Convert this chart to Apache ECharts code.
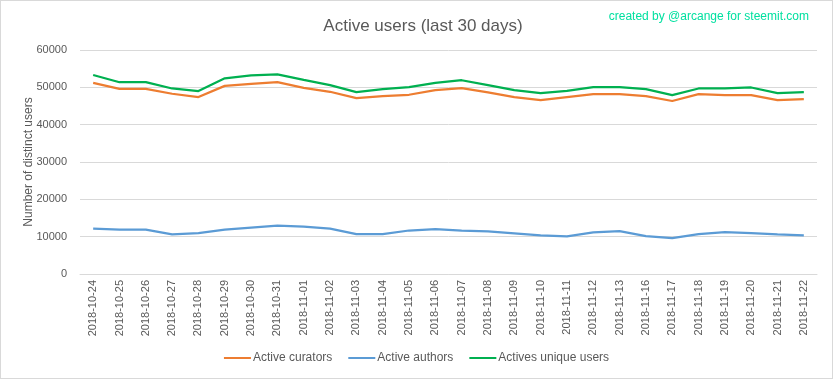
<!DOCTYPE html>
<html>
<head>
<meta charset="utf-8">
<script src="https://cdn.jsdelivr.net/npm/echarts@6/dist/echarts.min.js"></script>
<style>
html,body{margin:0;padding:0;background:#fff;}
#c{width:833px;height:379px;box-sizing:border-box;border:1px solid #d9d9d9;}
</style>
</head>
<body>
<div id="c"></div>
<script>
const categories = ["2018-10-24","2018-10-25","2018-10-26","2018-10-27","2018-10-28","2018-10-29","2018-10-30","2018-10-31","2018-11-01","2018-11-02","2018-11-03","2018-11-04","2018-11-05","2018-11-06","2018-11-07","2018-11-08","2018-11-09","2018-11-10","2018-11-11","2018-11-12","2018-11-13","2018-11-16","2018-11-17","2018-11-18","2018-11-19","2018-11-20","2018-11-21","2018-11-22"];
const activeCurators = [51190,49600,49600,48280,47400,50400,50930,51370,49870,48810,47130,47660,48010,49250,49780,48630,47400,46600,47400,48190,48190,47660,46340,48190,47930,47930,46600,46870];
const activeAuthors = [12180,11910,11910,10590,10940,11910,12440,12970,12710,12180,10680,10680,11650,12000,11650,11390,10860,10330,10060,11120,11470,10150,9620,10680,11210,10940,10590,10330];
const uniqueUsers = [53310,51370,51400,49690,48990,52430,53220,53490,51990,50570,48720,49510,50040,51190,51900,50570,49250,48460,49070,50040,50040,49510,47930,49690,49690,49960,48460,48720];
const yTicks = [0,10000,20000,30000,40000,50000,60000];

const chart = echarts.init(document.getElementById('c'));
const font = 'Liberation Sans Narrow, Liberation Sans, sans-serif';
function line(name, data, color){
  return {name, type:'line', data, symbol:'none', smooth:false,
    lineStyle:{width:2.25, color}, itemStyle:{color}};
}
chart.setOption({
  animation:false,
  title:[{text:'Active users (last 30 days)', left:417, top:12, textAlign:'center',
    textStyle:{fontFamily:font, fontWeight:'normal', fontSize:17, color:'#595959'}},
    {text:'created by @arcange for steemit.com', right:18, top:5,
    textStyle:{fontFamily:font, fontWeight:'normal', fontSize:12, color:'#00e0a0'}}],
  grid:{left:79, right:15, top:49, bottom:104},
  legend:{bottom:9, left:'center', itemWidth:27, itemHeight:2, itemGap:16, icon:'rect',
    textStyle:{fontFamily:font, fontSize:12, color:'#595959', padding:[0,0,0,-3]},
    data:['Active curators','Active authors','Actives unique users']},
  xAxis:{type:'category', data:categories, boundaryGap:true,
    axisLine:{lineStyle:{color:'#d9d9d9'}}, axisTick:{show:false},
    axisLabel:{rotate:90, interval:0, fontFamily:font, fontSize:11, color:'#595959', margin:6}},
  yAxis:{type:'value', min:0, max:60000, interval:10000,
    name:'Number of distinct users', nameLocation:'middle', nameGap:45, nameMoveOverlap:false,
    nameTextStyle:{fontFamily:font, fontSize:12, color:'#595959'},
    axisLine:{show:false}, axisTick:{show:false},
    axisLabel:{fontFamily:font, fontSize:11, color:'#595959', margin:13,
      formatter:v=>yTicks.includes(v)?String(v):''},
    splitLine:{lineStyle:{color:'#d9d9d9'}}},
  series:[line('Active curators', activeCurators, '#ed7d31'),
          line('Active authors', activeAuthors, '#5b9bd5'),
          line('Actives unique users', uniqueUsers, '#00b050')]
});
</script>
</body>
</html>
